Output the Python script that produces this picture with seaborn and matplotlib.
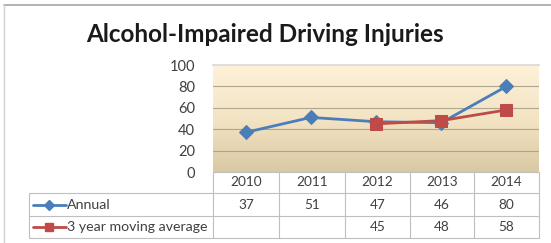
import matplotlib
matplotlib.use("Agg")
import matplotlib.pyplot as plt
import seaborn as sns
import numpy as np
import pandas as pd
from matplotlib.lines import Line2D
from matplotlib.colors import LinearSegmentedColormap

years = ["2010", "2011", "2012", "2013", "2014"]
annual = [37, 51, 47, 46, 80]
moving_avg = [None, None, 45, 48, 58]
series_names = ["Annual", "3 year moving average"]
title = "Alcohol-Impaired Driving Injuries"
yticks = [0, 20, 40, 60, 80, 100]

sns.set_theme(style="white")
plt.rcParams['font.family'] = ['Lato', 'DejaVu Sans']

W, H = 551, 243
fig = plt.figure(figsize=(W / 100, H / 100), dpi=100)

def fx(px):
    return px / W

def fy(py):
    return 1 - py / H

L, R, T, B = 213, 539, 65, 172
ax = fig.add_axes([fx(L), fy(B), fx(R) - fx(L), fy(T) - fy(B)])

df = pd.DataFrame({"x": list(range(len(years))) * 2,
                   "value": annual + moving_avg,
                   "series": [series_names[0]] * len(years) + [series_names[1]] * len(years)})
df = df.dropna()

blue = "#4A7EBB"
red = "#BE4B48"

# gradient background
cmap = LinearSegmentedColormap.from_list("g", ["#FDF1D8", "#F3E4C4", "#D9C9A3"])
grad = np.linspace(0, 1, 256).reshape(-1, 1)
ax.imshow(grad, extent=[-0.5, 4.5, 0, 100], aspect="auto", cmap=cmap, zorder=0, origin="upper")

for yv in yticks[1:-1]:
    ax.axhline(yv, color="#ADA690", lw=0.8, zorder=1)

sns.lineplot(data=df[df.series == series_names[0]], x="x", y="value", ax=ax, color=blue,
             marker="D", markersize=7, lw=2.0, markeredgecolor=blue, zorder=3, legend=False)
sns.lineplot(data=df[df.series == series_names[1]], x="x", y="value", ax=ax, color=red,
             marker="s", markersize=8, lw=2.0, markeredgecolor=red, zorder=4, legend=False)

ax.set_xlim(-0.5, 4.5)
ax.set_ylim(0, 100)
ax.set_yticks(yticks)
ax.set_yticklabels([str(v) for v in yticks], fontsize=10.5, color="#404040")
ax.tick_params(axis="y", length=0, pad=13)
ax.set_xticks([])
ax.set_xlabel("")
ax.set_ylabel("")
for s in ax.spines.values():
    s.set_visible(False)
ax.spines["top"].set_visible(True)
ax.spines["top"].set_color("#D9D9D9")

# table
gc = "#BFBFBF"
cols = [213, 279, 345, 410, 474, 539]
rows = [172, 193, 216, 238]
tl = 29

def hline(y, x0, x1):
    fig.add_artist(Line2D([fx(x0), fx(x1)], [fy(y), fy(y)], color=gc, lw=0.8))

def vline(x, y0, y1):
    fig.add_artist(Line2D([fx(x), fx(x)], [fy(y0), fy(y1)], color=gc, lw=0.8))

hline(rows[0], cols[0], cols[-1])
for r in rows[1:]:
    hline(r, tl, cols[-1])
for c in cols:
    vline(c, rows[0], rows[-1])
vline(tl, rows[1], rows[-1])

tc = "#404040"
fs = 9.8
for i, yr in enumerate(years):
    cx = (cols[i] + cols[i + 1]) / 2
    fig.text(fx(cx), fy((rows[0] + rows[1]) / 2), yr, ha="center", va="center", fontsize=fs, color=tc)
    fig.text(fx(cx), fy((rows[1] + rows[2]) / 2), str(annual[i]), ha="center", va="center", fontsize=fs, color=tc)
    if moving_avg[i] is not None:
        fig.text(fx(cx), fy((rows[2] + rows[3]) / 2), str(moving_avg[i]), ha="center", va="center", fontsize=fs, color=tc)

# legend keys in table
for j, (name, col, mk, ms) in enumerate([(series_names[0], blue, "D", 5), (series_names[1], red, "s", 6)]):
    yc = fy((rows[1 + j] + rows[2 + j]) / 2)
    fig.add_artist(Line2D([fx(33), fx(66)], [yc, yc], color=col, lw=2.0))
    fig.add_artist(Line2D([fx(49)], [yc], color=col, marker=mk, markersize=ms, markeredgecolor=col))
    fig.text(fx(67), yc, name, ha="left", va="center", fontsize=10.2, color=tc)

# outer frame
fig.add_artist(Line2D([fx(4), fx(551)], [fy(5), fy(5)], color="#A6A6A6", lw=1.2))
fig.add_artist(Line2D([fx(4), fx(4)], [fy(5), fy(243)], color="#D0D0D0", lw=1.0))

fig.text(fx(265), fy(34), title, ha="center", va="center", fontsize=17.5, fontweight="bold", color="#1a1a1a")

fig.savefig("out.png", dpi=100)
